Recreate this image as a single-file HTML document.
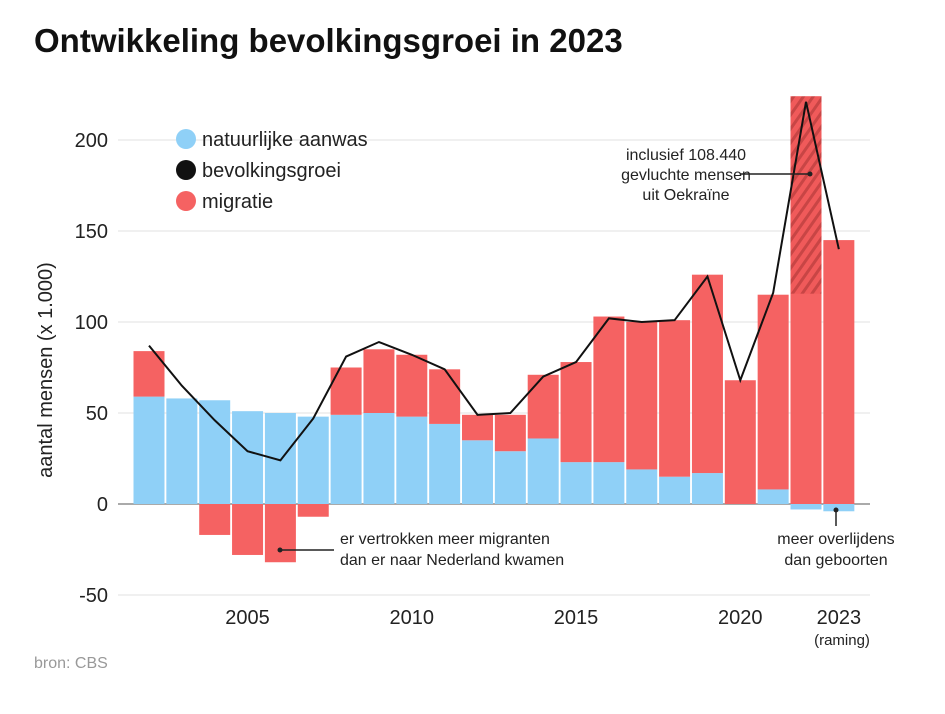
<!DOCTYPE html>
<html><head><meta charset="utf-8"><style>
body{margin:0;background:#fff;width:945px;height:709px;overflow:hidden;font-family:"Liberation Sans",sans-serif;}
</style></head><body>
<svg width="945" height="709" xmlns="http://www.w3.org/2000/svg" font-family="Liberation Sans, sans-serif">
<defs>
<pattern id="hatch" width="8" height="8" patternUnits="userSpaceOnUse" patternTransform="rotate(35)">
<rect width="8" height="8" fill="#f05a5a"/><rect width="3" height="8" fill="#c84545"/>
</pattern>
</defs>
<text x="34" y="52" font-size="33" font-weight="bold" fill="#111">Ontwikkeling bevolkingsgroei in 2023</text>
<g id="grid"></g>
<g id="bars"></g>
<g id="line"></g>
<g id="labels"></g>
<text transform="translate(52,370) rotate(-90)" text-anchor="middle" font-size="20" fill="#222">aantal mensen (x 1.000)</text>
<g font-size="20" fill="#222">
<circle cx="186" cy="139" r="10" fill="#8fd0f7"/>
<text x="202" y="146">natuurlijke aanwas</text>
<circle cx="186" cy="170" r="10" fill="#111"/>
<text x="202" y="177">bevolkingsgroei</text>
<circle cx="186" cy="201" r="10" fill="#f56262"/>
<text x="202" y="208">migratie</text>
</g>
<g font-size="16" fill="#222">
<text x="686" y="160" text-anchor="middle">inclusief 108.440</text>
<text x="686" y="180" text-anchor="middle">gevluchte mensen</text>
<text x="686" y="200" text-anchor="middle">uit Oekraïne</text>
<line x1="740" y1="174" x2="810" y2="174" stroke="#222" stroke-width="1.5"/><circle cx="810" cy="174" r="2.5" fill="#222"/>
<text x="340" y="544">er vertrokken meer migranten</text>
<text x="340" y="565">dan er naar Nederland kwamen</text>
<line x1="280" y1="550" x2="334" y2="550" stroke="#222" stroke-width="1.5"/><circle cx="280" cy="550" r="2.5" fill="#222"/>
<text x="836" y="544" text-anchor="middle">meer overlijdens</text>
<text x="836" y="565" text-anchor="middle">dan geboorten</text>
<line x1="836" y1="510" x2="836" y2="526" stroke="#222" stroke-width="1.5"/><circle cx="836" cy="510" r="2.5" fill="#222"/>
<text x="842" y="645" text-anchor="middle" font-size="15">(raming)</text>
</g>
<text x="34" y="668" font-size="16" fill="#999">bron: CBS</text>
</svg>
<script>
const years=[2002,2003,2004,2005,2006,2007,2008,2009,2010,2011,2012,2013,2014,2015,2016,2017,2018,2019,2020,2021,2022,2023];
const natural=[59,58,57,51,50,48,49,50,48,44,35,29,36,23,23,19,15,17,0,8,-3,-4];
const migration=[25,0,-17,-28,-32,-7,26,35,34,30,14,20,35,55,80,81,86,109,68,107,224,145];
const growth=[87,65,46,29,24,47,81,89,82,74,49,50,70,78,102,100,101,125,68,116,221,140];
const ukraine=[0,0,0,0,0,0,0,0,0,0,0,0,0,0,0,0,0,0,0,0,108.44,0];
const yTicks=[-50,0,50,100,150,200];
const xTicks=[2005,2010,2015,2020,2023];
const NS='http://www.w3.org/2000/svg';
const x=yr=>149+(yr-2002)*32.85;
const y=v=>504-v*1.82;
const bw=31;
function mk(tag,attrs,parent){const e=document.createElementNS(NS,tag);for(const k in attrs)e.setAttribute(k,attrs[k]);document.getElementById(parent).appendChild(e);return e;}
yTicks.forEach(t=>{
 if(t!==0){const l=mk('line',{x1:118,x2:870,y1:y(t),y2:y(t),stroke:'#e2e2e2','stroke-width':1},'grid');
 
 }
 const tx=mk('text',{x:108,y:y(t)+7,'text-anchor':'end','font-size':20,fill:'#222'},'labels');tx.textContent=t;
 
 
});
xTicks.forEach(t=>{
 const tx=mk('text',{x:x(t),y:624,'text-anchor':'middle','font-size':20,fill:'#222'},'labels');tx.textContent=t;
 
 
});
years.forEach((yr,i)=>{
 const n=natural[i],m=migration[i];
 const r1=mk('rect',{x:x(yr)-bw/2,width:bw,y:Math.min(y(0),y(n)),height:Math.abs(y(n)-y(0)),fill:'#8fd0f7'},'bars');
 
 
 const base=(n>0&&m>0)?n:(n<0&&m<0?n:0), top=base+m;
 const r2=mk('rect',{x:x(yr)-bw/2,width:bw,y:Math.min(y(base),y(top)),height:Math.abs(y(top)-y(base)),fill:'#f56262'},'bars');
 
 
 if(ukraine[i]>0){
  const r3=mk('rect',{x:x(yr)-bw/2,width:bw,y:y(top),height:y(top-ukraine[i])-y(top),fill:'url(#hatch)'},'bars');
  
  
 }
});
mk('line',{x1:118,x2:870,y1:y(0),y2:y(0),stroke:'#555','stroke-width':1},'grid');
const p=mk('polyline',{points:years.map((yr,i)=>x(yr)+','+y(growth[i])).join(' '),fill:'none',stroke:'#111','stroke-width':2},'line');


</script>
</body></html>
